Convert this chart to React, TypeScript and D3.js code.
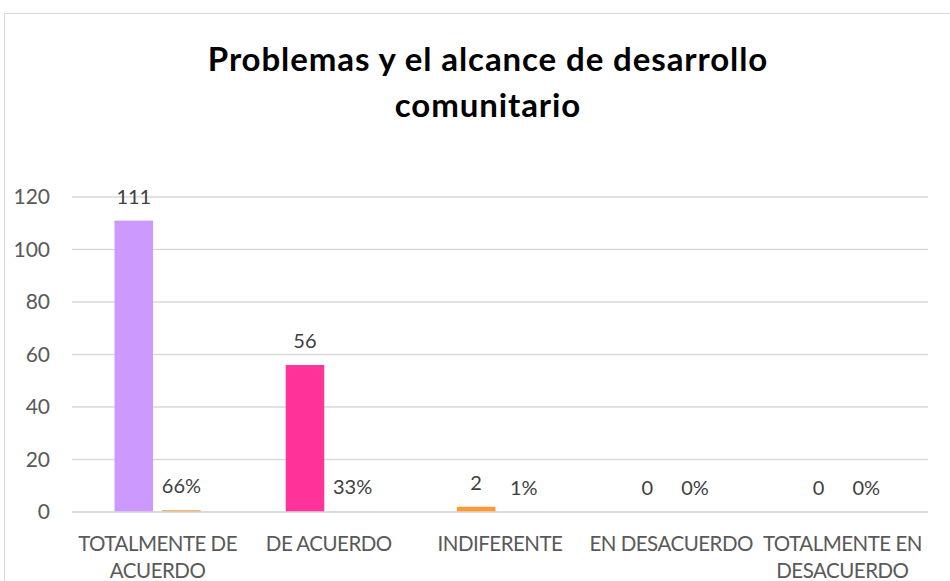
import React, { useEffect, useRef } from 'react'
import * as d3 from 'd3'

const TITLE = ['Problemas y el alcance de desarrollo', 'comunitario']
const CATEGORIES = [
  ['TOTALMENTE DE', 'ACUERDO'],
  ['DE ACUERDO'],
  ['INDIFERENTE'],
  ['EN DESACUERDO'],
  ['TOTALMENTE EN', 'DESACUERDO'],
]
const COUNTS = [111, 56, 2, 0, 0]
const PERCENTS = [0.66, 0.33, 0.01, 0, 0]
const COUNT_COLORS = ['#CC99FF', '#FF3399', '#FF9933', '#FF9933', '#FF9933']
const PERCENT_COLORS = ['#F79646', '#FBD4B4', '#F79646', '#F79646', '#F79646']
const Y_TICKS = [0, 20, 40, 60, 80, 100, 120]

const FONT = 'Lato, "Open Sans", sans-serif'

export default function App() {
  const svgRef = useRef<SVGSVGElement>(null)

  useEffect(() => {
    if (!svgRef.current) return
    const width = 950
    const height = 581
    const margin = { top: 197, right: 22, bottom: 69, left: 72 }
    const w = width - margin.left - margin.right
    const h = height - margin.top - margin.bottom

    const svg = d3.select(svgRef.current)
    svg.selectAll('*').remove()

    svg
      .append('rect')
      .attr('x', 4.5)
      .attr('y', 13.5)
      .attr('width', 1000)
      .attr('height', 1000)
      .attr('fill', '#fff')
      .attr('stroke', '#D9D9D9')

    const title = svg
      .append('text')
      .attr('text-anchor', 'middle')
      .attr('font-family', FONT)
      .attr('font-weight', 'bold')
      .attr('font-size', 33)
      .attr('letter-spacing', 0.9)
      .attr('fill', '#000')
    TITLE.forEach((t, i) => {
      title
        .append('tspan')
        .attr('x', 488)
        .attr('y', 71 + i * 46)
        .text(t)
    })

    const g = svg.append('g').attr('transform', `translate(${margin.left},${margin.top})`)

    const x0 = d3
      .scaleBand<number>()
      .domain(d3.range(CATEGORIES.length))
      .range([0, w])
      .paddingInner(0)
      .paddingOuter(0)
    const x1 = d3
      .scaleBand<string>()
      .domain(['count', 'percent'])
      .range([42.5, x0.bandwidth() - 42.5])
      .paddingInner(0.19)
    const y = d3.scaleLinear().domain([0, 120]).range([h, 0])

    g.selectAll('line.grid')
      .data(Y_TICKS)
      .enter()
      .append('line')
      .attr('class', 'grid')
      .attr('x1', 0)
      .attr('x2', w)
      .attr('y1', (d) => y(d))
      .attr('y2', (d) => y(d))
      .attr('stroke', '#D9D9D9')
      .attr('stroke-width', 1.3)

    g.selectAll('text.ytick')
      .data(Y_TICKS)
      .enter()
      .append('text')
      .attr('class', 'ytick')
      .attr('x', -22)
      .attr('y', (d) => y(d))
      .attr('dy', '0.35em')
      .attr('text-anchor', 'end')
      .attr('font-family', FONT)
      .attr('font-size', 21)
      .attr('fill', '#595959')
      .text((d) => d)

    const groups = g
      .selectAll('g.cat')
      .data(CATEGORIES.map((c, i) => ({ c, i })))
      .enter()
      .append('g')
      .attr('class', 'cat')
      .attr('transform', (d) => `translate(${x0(d.i)},0)`)

    groups
      .append('rect')
      .attr('x', x1('count')!)
      .attr('width', x1.bandwidth())
      .attr('y', (d) => y(COUNTS[d.i]))
      .attr('height', (d) => h - y(COUNTS[d.i]))
      .attr('fill', (d) => COUNT_COLORS[d.i])

    groups
      .append('rect')
      .attr('x', x1('percent')!)
      .attr('width', x1.bandwidth())
      .attr('y', (d) => y(PERCENTS[d.i]))
      .attr('height', (d) => h - y(PERCENTS[d.i]))
      .attr('fill', (d) => PERCENT_COLORS[d.i])

    groups
      .append('text')
      .attr('x', x1('count')! + x1.bandwidth() / 2)
      .attr('y', (d) => y(COUNTS[d.i]) - 17)
      .attr('text-anchor', 'middle')
      .attr('font-family', FONT)
      .attr('font-size', 20)
      .attr('fill', '#404040')
      .text((d) => COUNTS[d.i])

    groups
      .append('text')
      .attr('x', x1('percent')! + x1.bandwidth() / 2)
      .attr('y', (d) => y(PERCENTS[d.i]) - 17)
      .attr('text-anchor', 'middle')
      .attr('font-family', FONT)
      .attr('font-size', 20)
      .attr('fill', '#404040')
      .text((d) => d3.format('.0%')(PERCENTS[d.i]))

    g.append('line')
      .attr('x1', 0)
      .attr('x2', w)
      .attr('y1', h)
      .attr('y2', h)
      .attr('stroke', '#D9D9D9')
      .attr('stroke-width', 1.5)

    const labels = groups
      .append('text')
      .attr('text-anchor', 'middle')
      .attr('font-family', FONT)
      .attr('font-size', 20.5)
      .attr('letter-spacing', -0.5)
      .attr('fill', '#595959')
    labels.each(function (d) {
      d.c.forEach((line, j) => {
        d3.select(this)
          .append('tspan')
          .attr('x', x0.bandwidth() / 2)
          .attr('y', h + 39 + j * 27)
          .text(line)
      })
    })
  }, [])

  return (
    <div style={{ position: 'fixed', left: 0, top: 0 }}>
      <svg ref={svgRef} width={950} height={581} style={{ display: 'block' }} />
    </div>
  )
}
